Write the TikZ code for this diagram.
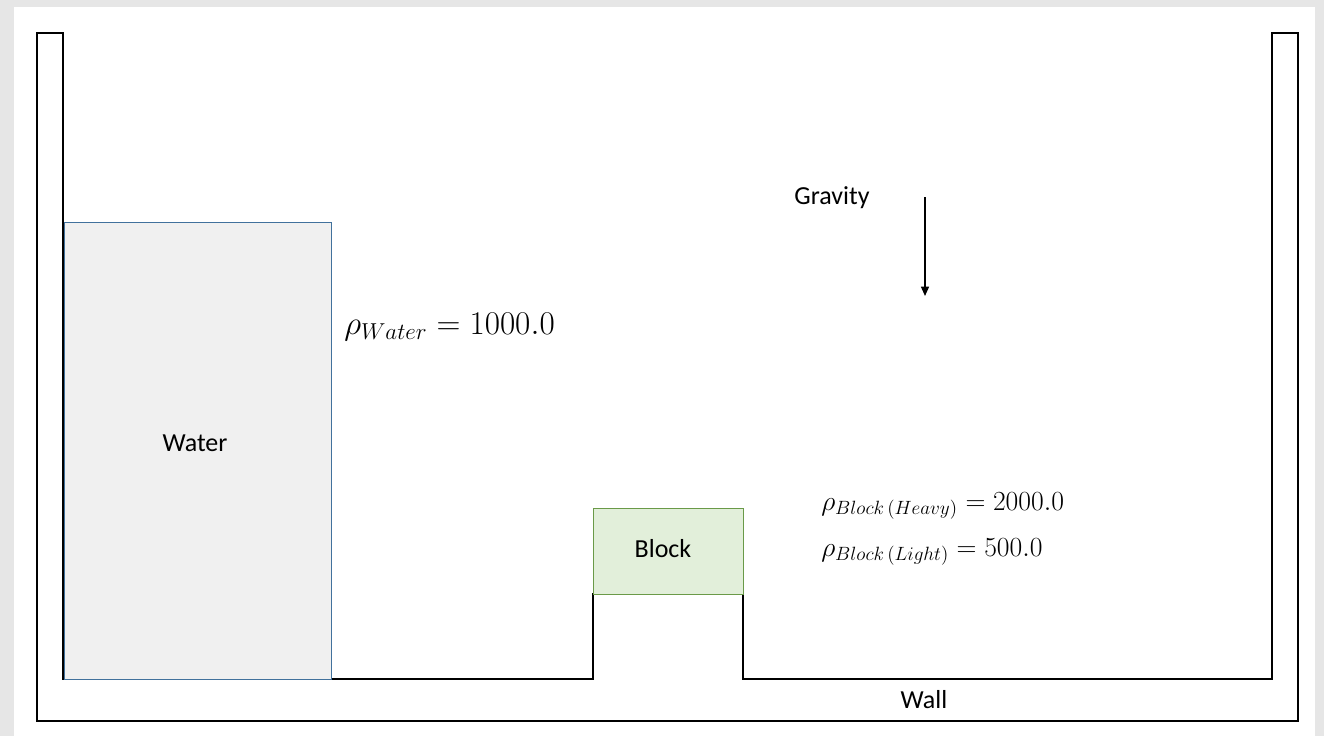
\documentclass[tikz,border=0pt]{standalone}
\usepackage{fontspec}
\setmainfont{Carlito}
\usetikzlibrary{arrows.meta}
\definecolor{bggray}{HTML}{E6E6E6}
\definecolor{waterfill}{HTML}{F0F0F0}
\definecolor{waterline}{HTML}{41719C}
\definecolor{blockfill}{HTML}{E2EFDA}
\definecolor{blockline}{HTML}{6A9A48}
\tikzset{
  lbl/.style={font=\fontsize{19.5}{23}\selectfont, inner sep=0pt},
  eqn/.style={font=\fontsize{23}{27}\selectfont, inner sep=0pt, anchor=west},
  eqnb/.style={font=\fontsize{22}{26}\selectfont, inner sep=0pt, anchor=west},
  wallline/.style={draw=black, line width=1.5pt*0.75},
}
\begin{document}
\begin{tikzpicture}[x=0.75pt,y=-0.75pt]
\useasboundingbox (0,0) rectangle (1324,736);
\fill[bggray] (0,0) rectangle (1324,736);
\fill[white] (14,7) rectangle (1315,736);
% container walls
\draw[wallline, line join=miter] (37,33) -- (63,33) -- (63,679) -- (593,679) -- (593,594) -- (743,594) -- (743,679) -- (1272,679) -- (1272,33) -- (1298,33) -- (1298,721) -- (37,721) -- cycle;
% water
\node[draw=waterline, fill=waterfill, line width=1.1pt, minimum width=267*0.75pt, minimum height=457*0.75pt, inner sep=0pt, anchor=north west] (water) at (64,222) {};
\node[lbl] (waterlbl) at (195,443) {Water};
% block
\node[draw=blockline, fill=blockfill, line width=1.1pt, minimum width=150*0.75pt, minimum height=86*0.75pt, inner sep=0pt, anchor=north west] (block) at (593,508) {};
\node[lbl] (blocklbl) at (663,549) {Block};
% labels
\node[lbl] (gravity) at (832,198) {Gravity};
\coordinate (gtop) at (925,197);
\coordinate (gbot) at (925,296);
\draw[line width=1pt, -{Triangle[length=7pt,width=6pt]}] (gtop) -- (gbot);
\node[eqn] (rhow) at (344,327) {$\rho_{Water} = 1000.0$};
\node[eqnb] (rhoh) at (821,506) {$\rho_{Block\,(Heavy)} = 2000.0$};
\node[eqnb] (rhol) at (821,552) {$\rho_{Block\,(Light)} = 500.0$};
\node[lbl] (wall) at (924,700) {Wall};
\end{tikzpicture}
\end{document}
